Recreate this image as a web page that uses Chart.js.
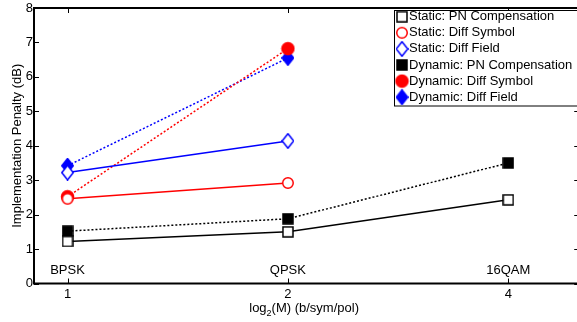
<!DOCTYPE html>
<html><head><meta charset="utf-8">
<script src="https://cdn.jsdelivr.net/npm/chart.js@4"></script>
<style>html,body{margin:0;padding:0;background:#fff;}canvas{display:block;}</style>
</head><body>
<canvas id="c" width="577" height="322"></canvas>
<script>
const modulations = ['BPSK', 'QPSK', '16QAM'];
const bitsPerSymbol = [1, 2, 4];
const staticPN = [1.22, 1.50, 2.43];
const staticDiffSymbol = [2.46, 2.92];
const staticDiffField = [3.22, 4.14];
const dynamicPN = [1.52, 1.88, 3.50];
const dynamicDiffSymbol = [2.52, 6.82];
const dynamicDiffField = [3.42, 6.55];
const yTicks = [0, 1, 2, 3, 4, 5, 6, 7, 8];
const xTitle = ['log', '2', '(M) (b/sym/pol)'];
const yTitle = 'Implementation Penalty (dB)';
const xMin = 0.9, xVisibleMax = 4.965, xFrameMax = 5;

const FONT = '"Liberation Sans", Arial, sans-serif';

function marker(shape, color, filled) {
  const c = document.createElement('canvas');
  let w, h;
  if (shape === 'square') { w = h = 12; }
  else if (shape === 'circle') { w = h = filled ? 15 : 14; }
  else { w = 13; h = 16; }
  c.width = w; c.height = h;
  const g = c.getContext('2d');
  g.lineWidth = 1.5; g.strokeStyle = color; g.fillStyle = filled ? color : '#fff';
  g.beginPath();
  if (shape === 'square') g.rect(1, 1, 10, 10);
  else if (shape === 'circle') g.arc(w / 2, h / 2, filled ? 6 : 5.25, 0, Math.PI * 2);
  else { g.moveTo(6.5, 0.75); g.lineTo(12.25, 8); g.lineTo(6.5, 15.25); g.lineTo(0.75, 8); g.closePath(); }
  g.fill(); g.stroke();
  return c;
}

function ds(label, values, color, shape, filled, dashed) {
  return {
    label,
    data: values.map((v, i) => ({ x: bitsPerSymbol[i], y: v })),
    borderColor: color, backgroundColor: color, borderWidth: 1.5,
    borderDash: dashed ? [2, 2] : [],
    pointStyle: marker(shape, color, filled), pointRadius: 7,
    tension: 0, fill: false, clip: false
  };
}

const datasets = [
  ds('Static: PN Compensation', staticPN, '#000000', 'square', false, false),
  ds('Static: Diff Symbol', staticDiffSymbol, '#ff0000', 'circle', false, false),
  ds('Static: Diff Field', staticDiffField, '#0000ff', 'diamond', false, false),
  ds('Dynamic: PN Compensation', dynamicPN, '#000000', 'square', true, true),
  ds('Dynamic: Diff Symbol', dynamicDiffSymbol, '#ff0000', 'circle', true, true),
  ds('Dynamic: Diff Field', dynamicDiffField, '#0000ff', 'diamond', true, true)
];

const framePlugin = {
  id: 'frame',
  afterDraw(chart) {
    const { ctx, chartArea: a, scales: { x, y } } = chart;
    const right = x.getPixelForValue(xFrameMax);
    ctx.save();
    ctx.strokeStyle = '#000';
    ctx.lineWidth = 1;
    ctx.beginPath();
    y.ticks.forEach(t => {
      const py = Math.round(y.getPixelForValue(t.value)) + 0.5;
      ctx.moveTo(a.left, py); ctx.lineTo(a.left + 5, py);
      ctx.moveTo(right, py); ctx.lineTo(right - 5, py);
    });
    x.ticks.forEach(t => {
      const px = Math.round(x.getPixelForValue(t.value)) + 0.5;
      ctx.moveTo(px, a.bottom); ctx.lineTo(px, a.bottom - 5);
      ctx.moveTo(px, a.top); ctx.lineTo(px, a.top + 5);
    });
    ctx.stroke();
    ctx.lineWidth = 2;
    ctx.strokeRect(a.left, a.top, right - a.left, a.bottom - a.top);

    // modulation labels
    ctx.fillStyle = '#000';
    ctx.font = '13px ' + FONT;
    ctx.textAlign = 'center';
    ctx.textBaseline = 'middle';
    modulations.forEach((m, i) => ctx.fillText(m, x.getPixelForValue(bitsPerSymbol[i]), y.getPixelForValue(0.39)));

    // x title with subscript
    ctx.textAlign = 'left';
    ctx.textBaseline = 'alphabetic';
    const sizes = [13, 9, 13], offs = [0, 4, 0];
    let total = 0;
    xTitle.forEach((s, i) => { ctx.font = sizes[i] + 'px ' + FONT; total += ctx.measureText(s).width; });
    let cx = (a.left + right) / 2 - 2.5 - total / 2;
    xTitle.forEach((s, i) => {
      ctx.font = sizes[i] + 'px ' + FONT;
      ctx.fillText(s, cx, 312 + offs[i]);
      cx += ctx.measureText(s).width;
    });

    // legend
    const lx = 394.5, ly = 10.5, lw = 200, lh = 95.5;
    ctx.fillStyle = '#fff';
    ctx.fillRect(lx, ly, lw, lh);
    ctx.lineWidth = 1;
    ctx.strokeRect(lx, ly, lw, lh);
    ctx.font = '13px ' + FONT;
    ctx.textBaseline = 'middle';
    chart.data.datasets.forEach((d, i) => {
      const cy = 16.7 + i * 16.1;
      const img = d.pointStyle;
      ctx.drawImage(img, 402 - img.width / 2, cy - img.height / 2);
      ctx.fillStyle = '#000';
      ctx.fillText(d.label, 409, cy);
    });
    ctx.restore();
  }
};

new Chart(document.getElementById('c'), {
  type: 'line',
  data: { datasets },
  options: {
    responsive: false,
    animation: false,
    devicePixelRatio: 1,
    layout: { autoPadding: false, padding: { top: 8, right: 0, left: 0, bottom: 0 } },
    plugins: { legend: { display: false }, tooltip: { enabled: false } },
    scales: {
      x: {
        type: 'logarithmic', min: xMin, max: xVisibleMax,
        afterBuildTicks: s => { s.ticks = bitsPerSymbol.map(v => ({ value: v })); },
        ticks: { callback: v => String(v), color: '#000', font: { family: FONT, size: 13 }, padding: 3, maxRotation: 0, autoSkip: false },
        grid: { display: false, drawTicks: false },
        border: { display: false },
        afterFit: s => { s.height = 38.5; s.paddingLeft = 0; s.paddingRight = 0; }
      },
      y: {
        min: 0, max: 8,
        afterBuildTicks: s => { s.ticks = yTicks.map(v => ({ value: v })); },
        ticks: { color: '#000', font: { family: FONT, size: 13 }, padding: 1 },
        grid: { display: false, drawTicks: false },
        border: { display: false },
        title: { display: true, text: yTitle, color: '#000', font: { family: FONT, size: 13 }, padding: { top: 10, bottom: 0 } },
        afterFit: s => { s.width = 34; s.paddingTop = 0; s.paddingBottom = 0; }
      }
    }
  },
  plugins: [framePlugin]
});
</script>
</body></html>
